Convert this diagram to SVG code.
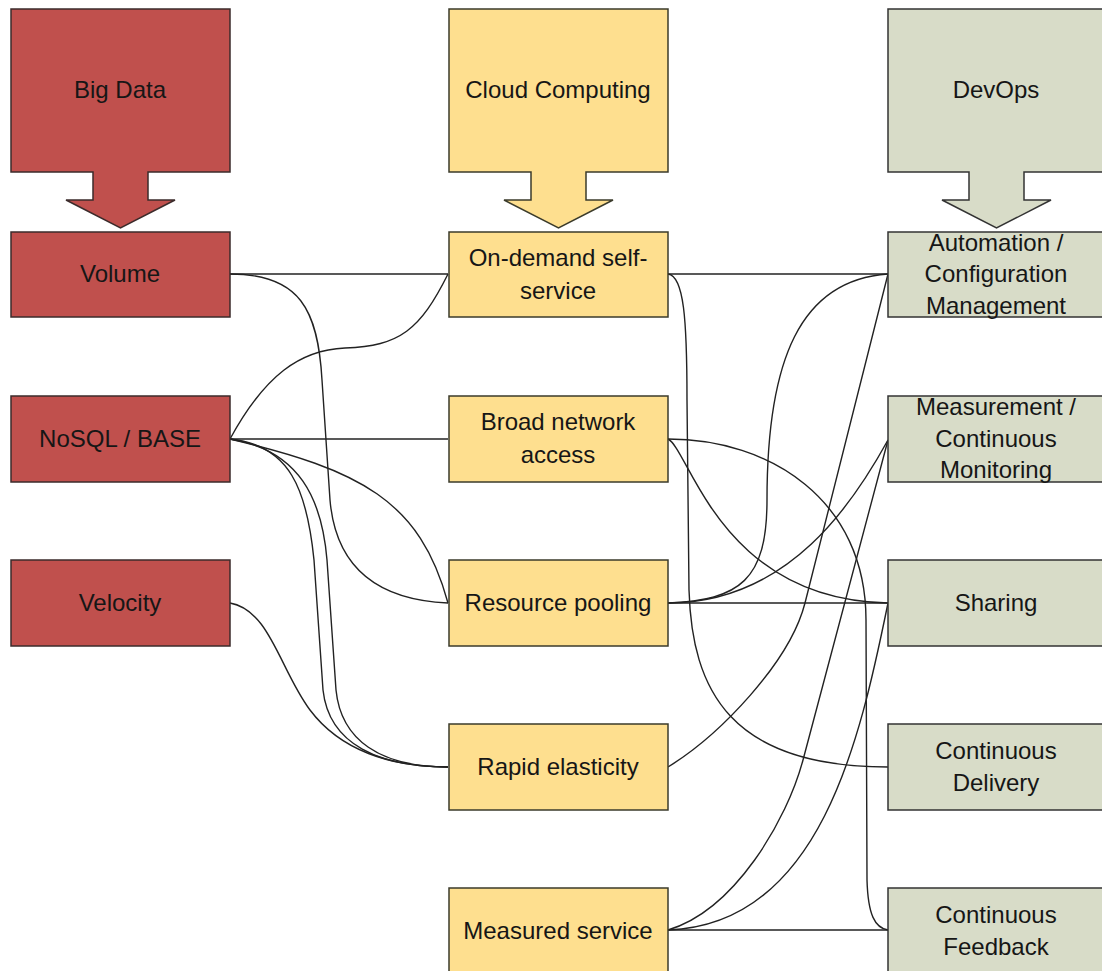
<svg xmlns="http://www.w3.org/2000/svg" width="1102" height="971" viewBox="0 0 1102 971">
<style>
.red{fill:#C0504D;stroke:#3b2b2b;stroke-width:1.5}
.yel{fill:#FEDF8F;stroke:#3b3b2b;stroke-width:1.5}
.grn{fill:#D8DCC8;stroke:#333;stroke-width:1.5}
.t{font-family:"Liberation Sans",Arial,sans-serif;font-size:24px;fill:#161616;text-anchor:middle}
.c{fill:none;stroke:#222;stroke-width:1.4}
</style>
<rect width="1102" height="971" fill="#fff"/>
<g id="connectors" class="c">
<path d="M230,274 L448,274"/>
<path d="M230,274 C300,274 318,310 322,380 L330,500 C336,570 380,600 448,603"/>
<path d="M230,439 C265,375 300,350 345,348 C400,346 420,330 448,274"/>
<path d="M230,439 L448,439"/>
<path d="M230,439 C360,470 420,500 448,603"/>
<path d="M230,439 C300,450 322,500 327,560 L336,690 C341,740 380,767 448,767"/>
<path d="M230,439 C290,445 307,490 314,560 L323,690 C329,745 380,767 448,767"/>
<path d="M230,603 C270,610 280,670 310,710 C340,750 390,767 448,767"/>
<path d="M668,274 L888,274"/>
<path d="M668,274 C684,276 687,320 687,400 L689,590 C692,690 730,767 888,767"/>
<path d="M668,439 C690,450 720,600 888,603"/>
<path d="M668,439 C770,439 866,500 866,620 L867,880 C868,915 875,928 888,930"/>
<path d="M668,603 C740,600 767,580 767,500 C767,360 800,280 888,274"/>
<path d="M668,603 C790,603 855,500 888,440"/>
<path d="M668,603 L888,603"/>
<path d="M668,767 C720,735 790,662 805,603 L888,274"/>
<path d="M668,930 C735,910 787,820 803,760 L888,440"/>
<path d="M668,930 C820,925 860,740 888,603"/>
<path d="M668,930 L888,930"/>
</g>
<g id="big-data">
<path class="red" d="M11,9 H230 V172 H148 V200 H175 L120.5,228 L66,200 H93 V172 H11 Z"/>
<text class="t" x="120" y="98">Big Data</text>
</g>
<g id="cloud-computing">
<path class="yel" d="M449,9 H668 V172 H586 V200 H613 L558.5,228 L504,200 H531 V172 H449 Z"/>
<text class="t" x="558" y="98">Cloud Computing</text>
</g>
<g id="devops">
<path class="grn" d="M888,9 H1107 V172 H1024 V200 H1051 L996.5,228 L942,200 H969 V172 H888 Z"/>
<text class="t" x="996" y="98">DevOps</text>
</g>
<g id="volume"><rect class="red" x="11" y="232" width="219" height="85"/><text class="t" x="120" y="282">Volume</text></g>
<g id="nosql"><rect class="red" x="11" y="396" width="219" height="86"/><text class="t" x="120" y="447">NoSQL / BASE</text></g>
<g id="velocity"><rect class="red" x="11" y="560" width="219" height="86"/><text class="t" x="120" y="611">Velocity</text></g>
<g id="on-demand"><rect class="yel" x="449" y="232" width="219" height="85"/><text class="t" x="558" y="266">On-demand self-</text><text class="t" x="558" y="299">service</text></g>
<g id="broad-network"><rect class="yel" x="449" y="396" width="219" height="86"/><text class="t" x="558" y="430">Broad network</text><text class="t" x="558" y="463">access</text></g>
<g id="resource-pooling"><rect class="yel" x="449" y="560" width="219" height="86"/><text class="t" x="558" y="611">Resource pooling</text></g>
<g id="rapid-elasticity"><rect class="yel" x="449" y="724" width="219" height="86"/><text class="t" x="558" y="775">Rapid elasticity</text></g>
<g id="measured-service"><rect class="yel" x="449" y="888" width="219" height="86"/><text class="t" x="558" y="939">Measured service</text></g>
<g id="automation"><rect class="grn" x="888" y="232" width="219" height="85"/><text class="t" x="996" y="251">Automation /</text><text class="t" x="996" y="282">Configuration</text><text class="t" x="996" y="314">Management</text></g>
<g id="measurement"><rect class="grn" x="888" y="396" width="219" height="86"/><text class="t" x="996" y="415">Measurement /</text><text class="t" x="996" y="447">Continuous</text><text class="t" x="996" y="478">Monitoring</text></g>
<g id="sharing"><rect class="grn" x="888" y="560" width="219" height="86"/><text class="t" x="996" y="611">Sharing</text></g>
<g id="continuous-delivery"><rect class="grn" x="888" y="724" width="219" height="86"/><text class="t" x="996" y="759">Continuous</text><text class="t" x="996" y="791">Delivery</text></g>
<g id="continuous-feedback"><rect class="grn" x="888" y="888" width="219" height="86"/><text class="t" x="996" y="923">Continuous</text><text class="t" x="996" y="955">Feedback</text></g>
</svg>
